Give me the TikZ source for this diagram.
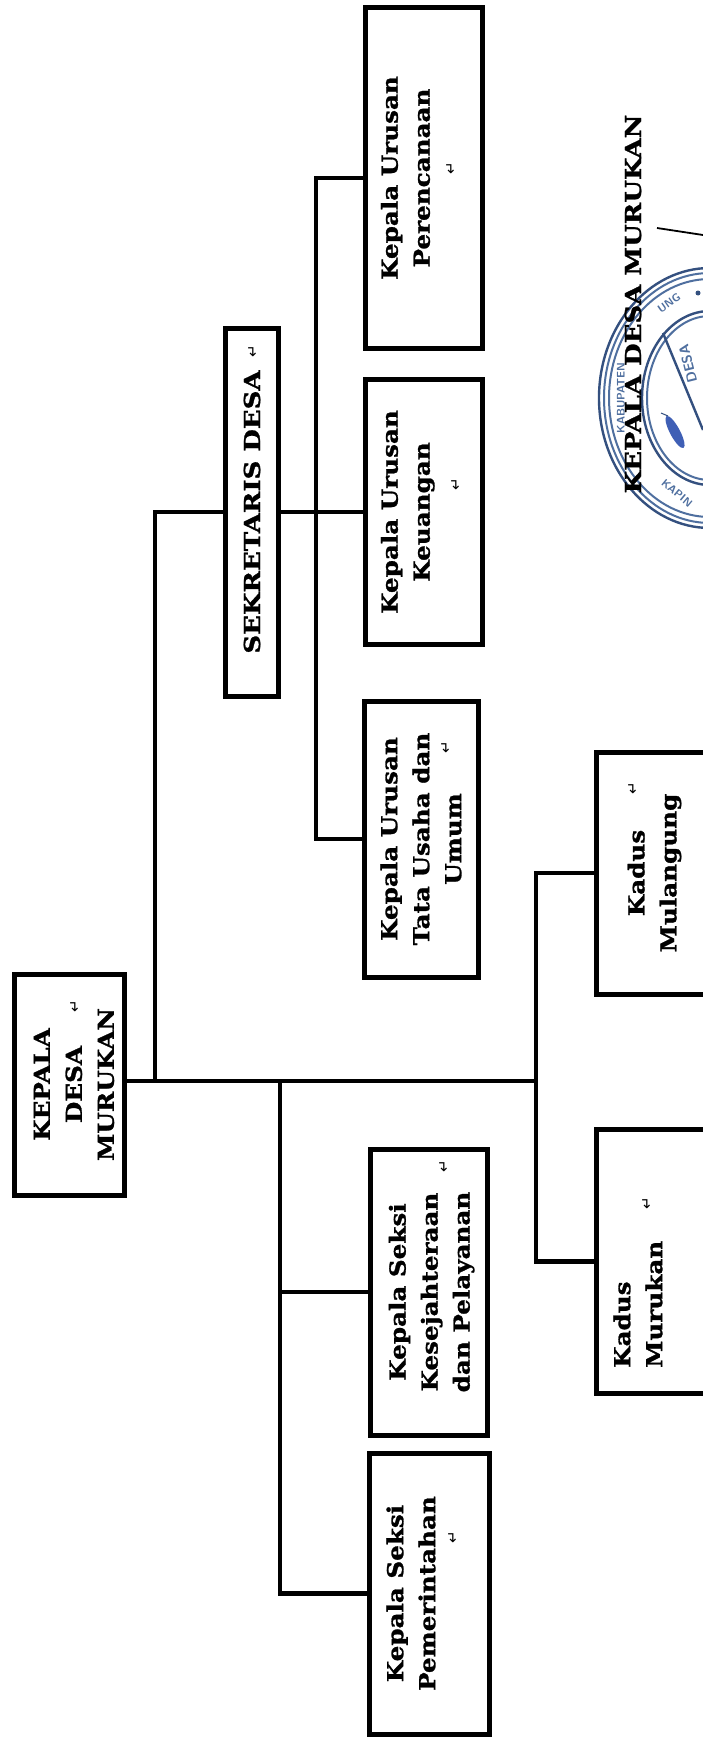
\documentclass[tikz,border=0pt]{standalone}
\usepackage{fontspec}
\setmainfont[BoldFeatures={FakeStretch=1.12,FakeBold=1.2}]{DejaVu Serif}
\newfontfamily\capsfont[BoldFeatures={FakeStretch=1.18,FakeBold=1.2}]{DejaVu Serif}
\newfontfamily\marksfont{DejaVu Sans}
\definecolor{stampblue}{HTML}{4F6F9F}
\definecolor{stampdark}{HTML}{34507F}
\definecolor{stampfig}{HTML}{3F5FB5}
\tikzset{
  orgbox/.style={draw=black,line width=5pt,rotate=90,align=center,inner sep=0pt,
    font=\fontsize{22}{32}\selectfont\bfseries},
  lbl/.style={rotate=90,inner sep=0pt,font=\fontsize{22}{32}\selectfont\bfseries},
  wire/.style={draw=black,line width=4.5pt,line cap=rect},
  retmark/.style={rotate=90,inner sep=0pt,font=\marksfont\fontsize{15}{15}\selectfont},
  ring/.style={draw=stampblue,line width=2pt},
  ringd/.style={draw=stampdark,line width=2.4pt},
  stamptext/.style={text=stampblue,font=\sffamily\bfseries\fontsize{11}{11}\selectfont,inner sep=0pt}
}
\begin{document}
\begin{tikzpicture}[x=1pt,y=-1pt]
\useasboundingbox (0,0) rectangle (703,1737);
\clip (0,0) rectangle (703,1737);
\fill[white] (0,0) rectangle (703,1737);

% stamp
\draw[ringd] (710,398) ellipse [x radius=111,y radius=130];
\draw[ring] (710,398) ellipse [x radius=106,y radius=125];
\draw[ring] (710,398) ellipse [x radius=101,y radius=119];
\draw[ringd] (710,398) ellipse [x radius=68,y radius=87];
\draw[ring] (710,398) ellipse [x radius=63,y radius=82];
\draw[ringd] (663,333) -- (703,430);
\node[stamptext,rotate=104,font=\sffamily\bfseries\fontsize{14}{14}\selectfont] (sdesa) at (688,364) {DESA};
\node[stamptext,rotate=90] (skab) at (621,398) {KABUPATEN};
\node[stamptext,rotate=35] (sung) at (669,303) {UNG};
\node[stamptext,rotate=-40] (skap) at (677,493) {KAPIN};
\fill[stampfig,rotate around={-62:(675,432)}] (675,432) ellipse [x radius=18,y radius=5];
\draw[stampdark,line width=1pt] (661,413) -- (668,416);
\fill[stampdark] (698,293) circle (2.5);

% signature stroke and title
\coordinate (sigA) at (657,228);
\coordinate (sigB) at (703,235);
\draw[black,line width=1.8pt] (sigA) -- (sigB);
\node[lbl,font=\capsfont\fontsize{22}{32}\selectfont\bfseries] (ttd) at (633,304) {KEPALA DESA MURUKAN};

% boxes
\node[orgbox,minimum width=340pt,minimum height=117pt] (kup) at (423.5,178) {\rule{0pt}{22pt}Kepala Urusan\\Perencanaan\\\strut};
\node[orgbox,minimum width=265pt,minimum height=117pt] (kuk) at (423.5,512) {\rule{0pt}{22pt}Kepala Urusan\\Keuangan\\\strut};
\node[orgbox,minimum width=368pt,minimum height=53.5pt,font=\capsfont\fontsize{22}{32}\selectfont\bfseries] (sek) at (252,512) {SEKRETARIS DESA};
\node[orgbox,minimum width=276pt,minimum height=114pt] (kut) at (421,839) {Kepala Urusan\\Tata Usaha dan\\Umum};
\node[orgbox,minimum width=221pt,minimum height=110pt] (kades) at (69,1084.5) {\rule{0pt}{26pt}KEPALA\\DESA\\MURUKAN};
\node[orgbox,minimum width=286pt,minimum height=117.5pt] (kss) at (429,1292) {\rule{0pt}{22pt}Kepala Seksi\\Kesejahteraan\\dan Pelayanan};
\node[orgbox,minimum width=281pt,minimum height=120pt] (ksp) at (429,1593.5) {\rule{0pt}{22pt}Kepala Seksi\\Pemerintahan\\\strut};
\node[orgbox,minimum width=242pt,minimum height=117pt] (kdm) at (654.5,873) {Kadus\\Mulangung};
\node[orgbox,minimum width=264.5pt,minimum height=122pt] (kdr) at (657,1261.25) {};
\node[lbl,align=left,anchor=west] (kdrt) at (638,1368) {Kadus\\Murukan};

% return marks
\node[retmark] (m1) at (451,168) {↵};
\node[retmark] (m2) at (456,484) {↵};
\node[retmark] (m3) at (253,351) {↵};
\node[retmark] (m4) at (446,747) {↵};
\node[retmark] (m5) at (75,1006) {↵};
\node[retmark] (m6) at (633,788) {↵};
\node[retmark] (m7) at (647,1203) {↵};
\node[retmark] (m8) at (444,1166) {↵};
\node[retmark] (m9) at (453,1537) {↵};

% connectors
\coordinate (trunk) at (155,1081);
\coordinate (trunkend) at (536,1081);
\coordinate (sekj) at (280,1081);
\coordinate (kjx) at (316,511);
\draw[wire] (kades.south |- trunk) -- (trunkend);
\draw[wire] (trunk) |- (sek.north);
\draw[wire] (sek.south) -- (kuk.north);
\draw[wire] (kup.north) -| (kjx) |- (kut.north);
\draw[wire] (kdm.north) -| (trunkend) |- (kdr.north);
\draw[wire] (sekj) |- (ksp.north);
\draw[wire] (sekj |- kss.north) -- (kss.north);
\end{tikzpicture}
\end{document}
